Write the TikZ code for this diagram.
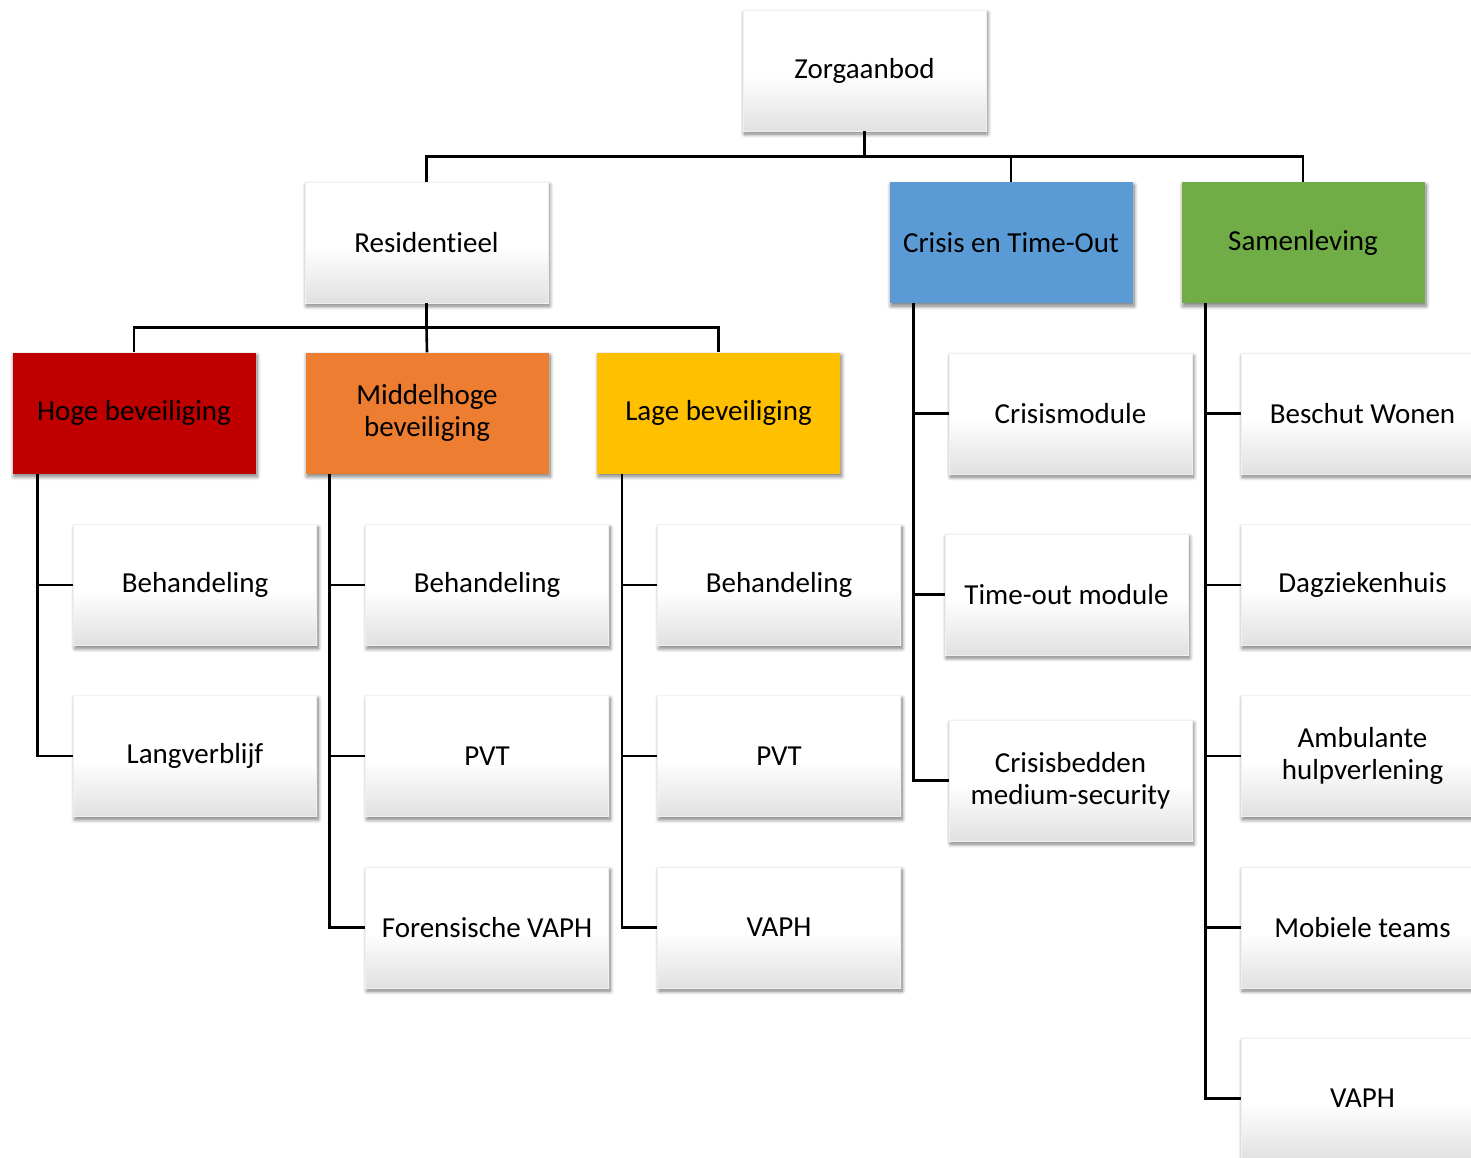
\documentclass[tikz,border=0pt]{standalone}
\usepackage{fontspec}
\setmainfont{Carlito}[Ligatures=NoCommon]
\usetikzlibrary{calc,shadows.blur}
\definecolor{cred}{HTML}{C00000}
\definecolor{corange}{HTML}{ED7D31}
\definecolor{cyellow}{HTML}{FFC000}
\definecolor{cblue}{HTML}{5B9BD5}
\definecolor{cgreen}{HTML}{70AD47}
\pgfdeclareverticalshading{boxshade}{100bp}{color(0bp)=(black!12); color(25bp)=(black!12); color(48bp)=(white); color(100bp)=(white)}
\tikzset{
  base/.style={rectangle, minimum width=243pt, minimum height=121pt, inner sep=2pt,
    align=center, font=\fontsize{29}{32}\selectfont, text=black,
    blur shadow={shadow xshift=1.5pt, shadow yshift=-3pt, shadow blur steps=8, shadow opacity=55, shadow blur radius=4pt}},
  wbox/.style={base, shading=boxshade, draw=black!6, line width=0.8pt},
  cbox/.style={base, fill=#1},
  conn/.style={line width=2.6pt, draw=black}
}
\begin{document}
\begin{tikzpicture}[x=1pt,y=-1pt]
\useasboundingbox (0,0) rectangle (1471,1157);
\clip (0,0) rectangle (1471,1157);
% nodes
\node[wbox] (zorg) at (864.5,70.5) {Zorgaanbod};
\node[wbox] (resid) at (426.5,242.5) {Residentieel};
\node[cbox=cblue] (crisis) at (1011,242.5) {Crisis en Time-Out};
\node[cbox=cgreen] (samen) at (1303,242.5) {Samenleving};
\node[cbox=cred] (hoge) at (134,413) {Hoge beveiliging};
\node[cbox=corange] (midd) at (427,413) {Middelhoge\\beveiliging};
\node[cbox=cyellow] (lage) at (718.5,413) {Lage beveiliging};
\node[wbox] (hb) at (195,585) {Behandeling};
\node[wbox] (hl) at (195,756) {Langverblijf};
\node[wbox] (mb) at (487,585) {Behandeling};
\node[wbox] (mp) at (487,756) {PVT};
\node[wbox] (mf) at (487,927.5) {Forensische VAPH};
\node[wbox] (lb) at (779,585) {Behandeling};
\node[wbox] (lp) at (779,756) {PVT};
\node[wbox] (lv) at (779,927.5) {VAPH};
\node[wbox] (cm) at (1070.5,413.5) {Crisismodule};
\node[wbox] (ct) at (1066.5,594.5) {Time-out module};
\node[wbox] (cb) at (1070.5,780.5) {Crisisbedden\\medium-security};
\node[wbox] (sb) at (1362.5,413.5) {Beschut Wonen};
\node[wbox] (sd) at (1362.5,585) {Dagziekenhuis};
\node[wbox] (sa) at (1362.5,756) {Ambulante\\hulpverlening};
\node[wbox] (sm) at (1362.5,927.5) {Mobiele teams};
\node[wbox] (sv) at (1362.5,1098.5) {VAPH};
% junctions
\coordinate (j0) at ($(zorg.south)+(0,25)$);
\coordinate (j1) at ($(resid.south)+(0,24)$);
\coordinate (hs) at ($(hoge.south west)+(25,0)$);
\coordinate (ms) at ($(midd.south west)+(24,0)$);
\coordinate (ls) at ($(lage.south west)+(25,0)$);
\coordinate (cs) at ($(crisis.south west)+(24,0)$);
\coordinate (ss) at ($(samen.south west)+(24,0)$);
% connectors
\draw[conn] (zorg.south) -- (j0);
\draw[conn] (resid.north) |- (j0) -| (samen.north);
\draw[conn] (crisis.north) |- (j0);
\draw[conn] (resid.south) -- (j1);
\draw[conn] (hoge.north) |- (j1) -| (lage.north);
\draw[conn] (midd.north) -- (j1);
\draw[conn] (hs) |- (hb.west);
\draw[conn] (hs) |- (hl.west);
\draw[conn] (ms) |- (mb.west);
\draw[conn] (ms) |- (mp.west);
\draw[conn] (ms) |- (mf.west);
\draw[conn] (ls) |- (lb.west);
\draw[conn] (ls) |- (lp.west);
\draw[conn] (ls) |- (lv.west);
\draw[conn] (cs) |- (cm.west);
\draw[conn] (cs) |- (ct.west);
\draw[conn] (cs) |- (cb.west);
\draw[conn] (ss) |- (sb.west);
\draw[conn] (ss) |- (sd.west);
\draw[conn] (ss) |- (sa.west);
\draw[conn] (ss) |- (sm.west);
\draw[conn] (ss) |- (sv.west);
\end{tikzpicture}
\end{document}
